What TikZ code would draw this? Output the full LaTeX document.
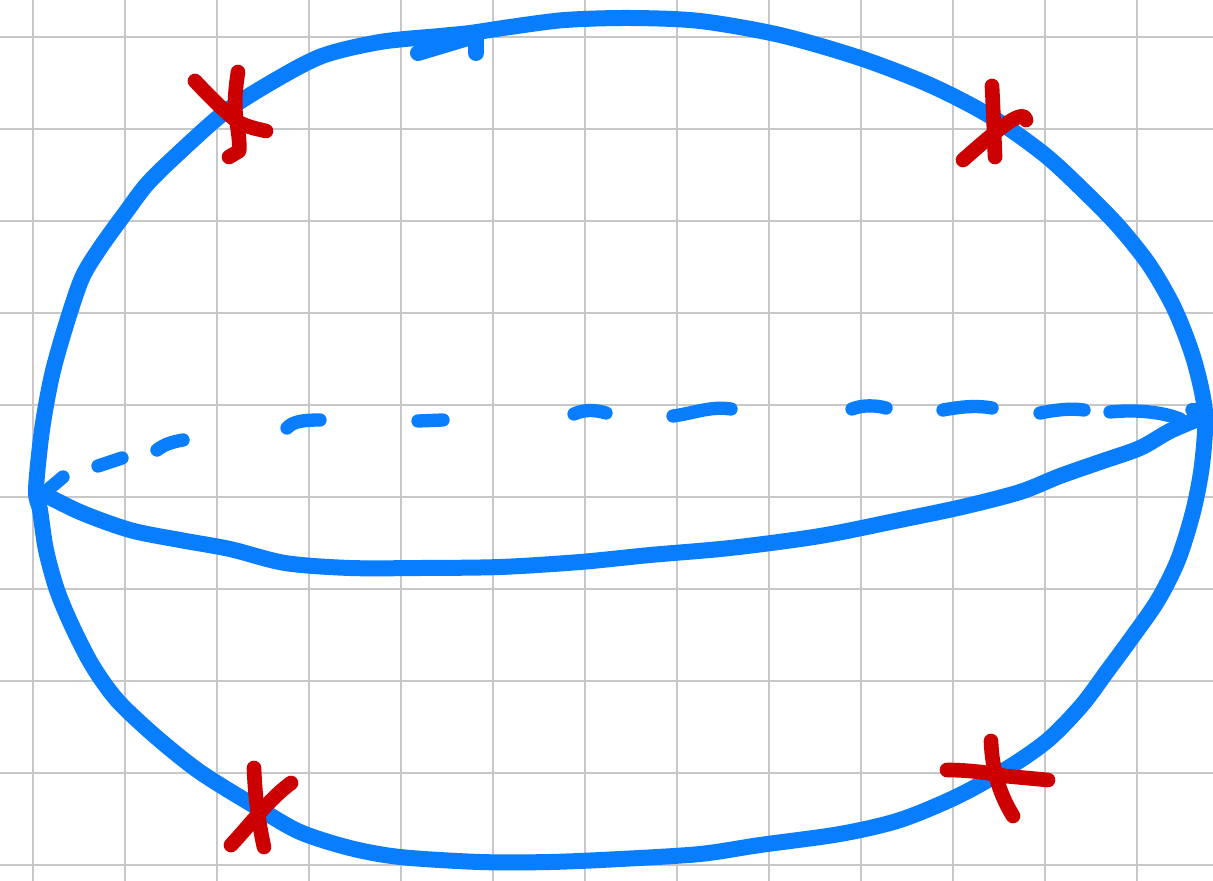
\documentclass[tikz,border=0pt]{standalone}
\definecolor{penblue}{RGB}{8,126,255}
\definecolor{penred}{RGB}{204,0,0}
\definecolor{gridgray}{RGB}{200,200,200}
\tikzset{
  gridline/.style={draw=gridgray, line width=1.4pt},
  bluepen/.style={draw=penblue, line width=12pt, line cap=round, line join=round},
  dashpen/.style={draw=penblue, line width=10pt, line cap=round, line join=round},
  redpen/.style={draw=penred, line width=11pt, line cap=round, line join=round},
}
\begin{document}
\begin{tikzpicture}[x=0.75pt,y=-0.75pt]
\useasboundingbox (0,0) rectangle (1213,881);
\fill[white] (0,0) rectangle (1213,881);
% grid
\foreach \gx in {33,125,...,1137} \draw[gridline] (\gx,0) -- (\gx,881);
\foreach \gy in {37,129,...,865} \draw[gridline] (0,\gy) -- (1213,\gy);
% outer loop
\draw[bluepen] plot[smooth cycle, tension=0.5] coordinates {
 (36,490) (42,430) (52,375) (66,325) (82,278) (100,248) (126,212) (148,183)
 (182,150) (225,112) (272,82) (322,56) (380,42) (440,36) (470,33)
 (510,27) (565,20) (630,18) (700,21) (780,35) (860,58) (930,85) (990,116)
 (1045,155) (1088,195) (1120,228) (1150,266) (1175,310) (1194,360) (1205,412)
 (1202,465) (1193,512) (1178,560) (1158,600) (1133,636) (1108,670) (1082,705)
 (1048,740) (1008,768) (958,796) (900,820) (840,834) (760,845) (700,854)
 (620,859) (550,862) (480,862) (400,857) (350,848) (300,832) (258,808)
 (200,772) (155,736) (117,700) (92,665) (72,626) (57,590) (46,550) (40,510)};
% arrow barbs at top
\coordinate (ab0) at (468,38);
\coordinate (ab1) at (418,53);
\coordinate (ab2) at (476,36);
\coordinate (ab3) at (476,53);
\draw[bluepen] (ab0) -- (ab1);
\draw[bluepen] (ab2) -- (ab3);
% front equator
\draw[bluepen] plot[smooth, tension=0.5] coordinates {
 (36,490) (80,512) (130,530) (180,540) (230,549) (285,563) (350,568) (420,568)
 (500,567) (580,562) (650,555) (730,548) (820,536) (900,520) (962,507)
 (1020,492) (1060,476) (1100,462) (1140,448) (1170,431) (1203,417)};
% back equator dashes
\draw[dashpen] (50,488) -- (63,477);
\draw[dashpen] (98,466) -- (122,458);
\draw[dashpen] (157,450) .. controls (165,444) and (172,442) .. (183,440);
\draw[dashpen] (287,428) .. controls (293,421) and (305,420) .. (320,420);
\draw[dashpen] (418,421) -- (443,420);
\draw[dashpen] (574,414) .. controls (585,409) and (596,410) .. (606,413);
\draw[dashpen] (673,416) .. controls (695,413) and (710,406) .. (731,409);
\draw[dashpen] (852,409) .. controls (862,405) and (875,405) .. (886,408);
\draw[dashpen] (943,410) .. controls (960,407) and (975,405) .. (992,408);
\draw[dashpen] (1040,413) .. controls (1055,410) and (1070,408) .. (1084,410);
\draw[dashpen] (1110,412) .. controls (1140,409) and (1165,413) .. (1180,419);
\draw[dashpen] (1192,410) -- (1205,410);
% red crosses
\draw[redpen] (195,81) .. controls (210,97) and (225,112) .. (238,122) .. controls (250,128) and (258,129) .. (266,131);
\draw[redpen] (238,72) .. controls (236,85) and (234,100) .. (236,118) .. controls (239,135) and (240,148) .. (239,151) -- (229,157);
\draw[redpen] (992,86) .. controls (993,105) and (994,130) .. (995,157);
\draw[redpen] (963,160) .. controls (980,145) and (995,132) .. (1005,125) .. controls (1015,117) and (1025,113) .. (1026,120);
\draw[redpen] (947,770) .. controls (970,770) and (990,773) .. (1005,776) -- (1048,780);
\draw[redpen] (991,741) .. controls (992,770) and (1000,795) .. (1013,816);
\draw[redpen] (254,768) .. controls (255,795) and (258,820) .. (264,847);
\draw[redpen] (231,845) .. controls (250,825) and (268,800) .. (291,783);
\end{tikzpicture}
\end{document}
